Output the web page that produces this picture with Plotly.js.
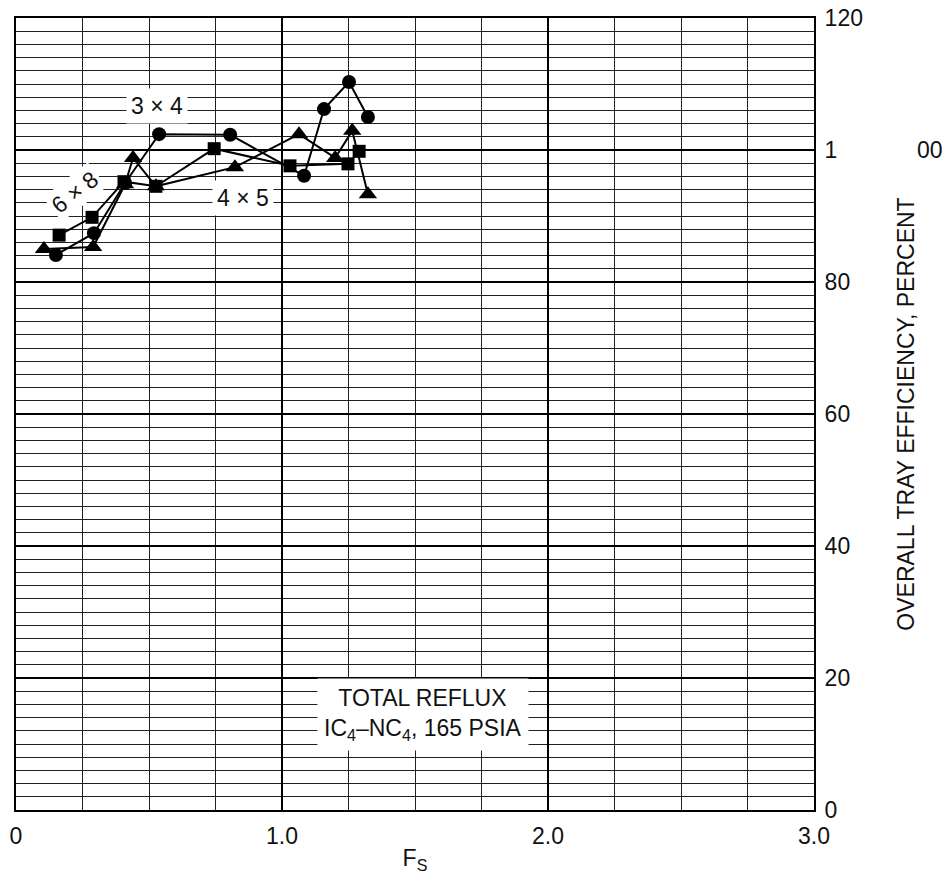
<!DOCTYPE html>
<html>
<head>
<meta charset="utf-8">
<script src="https://cdn.plot.ly/plotly-3.0.1.min.js"></script>
<style>html,body{margin:0;padding:0;background:#fff;}#chart{width:946px;height:888px;}</style>
</head>
<body>
<div id="chart"></div>
<script>
// 3 x 4 tray (circles)
const s34_x = [0.15, 0.293, 0.41, 0.538, 0.805, 1.083, 1.158, 1.252, 1.323];
const s34_y = [84.1, 87.4, 95.0, 102.4, 102.3, 96.1, 106.2, 110.3, 105.0];
// 6 x 8 tray (squares)
const s68_x = [0.162, 0.286, 0.406, 0.526, 0.745, 1.03, 1.248, 1.29];
const s68_y = [87.1, 89.8, 95.2, 94.5, 100.2, 97.6, 97.9, 99.8];
// 4 x 5 tray (triangles)
const s45_x = [0.105, 0.29, 0.41, 0.44, 0.526, 0.823, 1.064, 1.2, 1.264, 1.323];
const s45_y = [85.0, 85.3, 94.8, 98.8, 94.5, 97.4, 102.4, 98.8, 102.9, 93.3];

const xTickVals = [0, 1, 2, 3];
const xTickText = ["0", "1.0", "2.0", "3.0"];
const yTickVals = [0, 20, 40, 60, 80, 100, 120];
const yTickText = ["0", "20", "40", "60", "80", "1", "120"];

const FONT = "Liberation Sans, Arial, Helvetica, sans-serif";
const FS = 23;

function trace(x, y, sym, size) {
  return {
    x: x, y: y, type: "scatter", mode: "lines+markers",
    line: {color: "#000", width: 2},
    marker: {symbol: sym, size: size, color: "#000"},
    showlegend: false, hoverinfo: "skip"
  };
}

const data = [
  trace(s45_x, s45_y, "triangle-up", 16),
  trace(s68_x, s68_y, "square", 13),
  trace(s34_x, s34_y, "circle", 14)
];

const layout = {
  width: 946, height: 888,
  margin: {l: 16, r: 132, t: 18, b: 78},
  paper_bgcolor: "#fff", plot_bgcolor: "#fff",
  font: {family: FONT, size: FS, color: "#111"},
  showlegend: false,
  xaxis: {
    range: [0, 3], tickvals: xTickVals, ticktext: xTickText,
    showgrid: true, gridcolor: "#000", gridwidth: 2,
    minor: {dtick: 0.25, showgrid: true, gridcolor: "#222", gridwidth: 1, ticks: ""},
    zeroline: false, showline: true, linecolor: "#000", linewidth: 2, mirror: true,
    ticks: "", ticklabelstandoff: 4,
    tickfont: {family: FONT, size: FS, color: "#111"},
    title: {text: "F<sub>S</sub>", font: {family: FONT, size: FS, color: "#111"}, standoff: 2}
  },
  yaxis: {
    range: [0, 120], side: "right", tickvals: yTickVals, ticktext: yTickText,
    showgrid: true, gridcolor: "#000", gridwidth: 2,
    minor: {dtick: 2, showgrid: true, gridcolor: "#222", gridwidth: 1, ticks: ""},
    zeroline: false, showline: true, linecolor: "#000", linewidth: 2, mirror: true,
    ticks: "", ticklabelstandoff: 4,
    tickfont: {family: FONT, size: FS, color: "#111"},
    title: {text: "OVERALL TRAY EFFICIENCY, PERCENT", font: {family: FONT, size: FS, color: "#111"}, standoff: 36}
  },
  annotations: [
    {x: 0.53, y: 106.7, xref: "x", yref: "y", text: "3 \u00d7 4", showarrow: false,
     bgcolor: "#fff", borderpad: 4, font: {family: FONT, size: FS, color: "#111"}},
    {x: 0.853, y: 92.7, xref: "x", yref: "y", text: "4 \u00d7 5", showarrow: false,
     bgcolor: "#fff", borderpad: 4, font: {family: FONT, size: FS, color: "#111"}},
    {x: 0.222, y: 93.6, xref: "x", yref: "y", text: "6 \u00d7 8", showarrow: false, textangle: -38,
     bgcolor: "#fff", borderpad: 2, font: {family: FONT, size: FS, color: "#111"}},
    {x: 1.53, y: 14.4, xref: "x", yref: "y",
     text: "TOTAL REFLUX<br>IC<sub>4</sub>\u2013NC<sub>4</sub>, 165 PSIA", showarrow: false,
     bgcolor: "#fff", borderpad: 6, align: "center", font: {family: FONT, size: FS, color: "#111"}},
    {x: 1.145, y: 100, xref: "paper", yref: "y", text: "00", showarrow: false,
     xanchor: "center", font: {family: FONT, size: FS, color: "#111"}}
  ]
};

Plotly.newPlot("chart", data, layout, {staticPlot: true, displayModeBar: false});
</script>
</body>
</html>
